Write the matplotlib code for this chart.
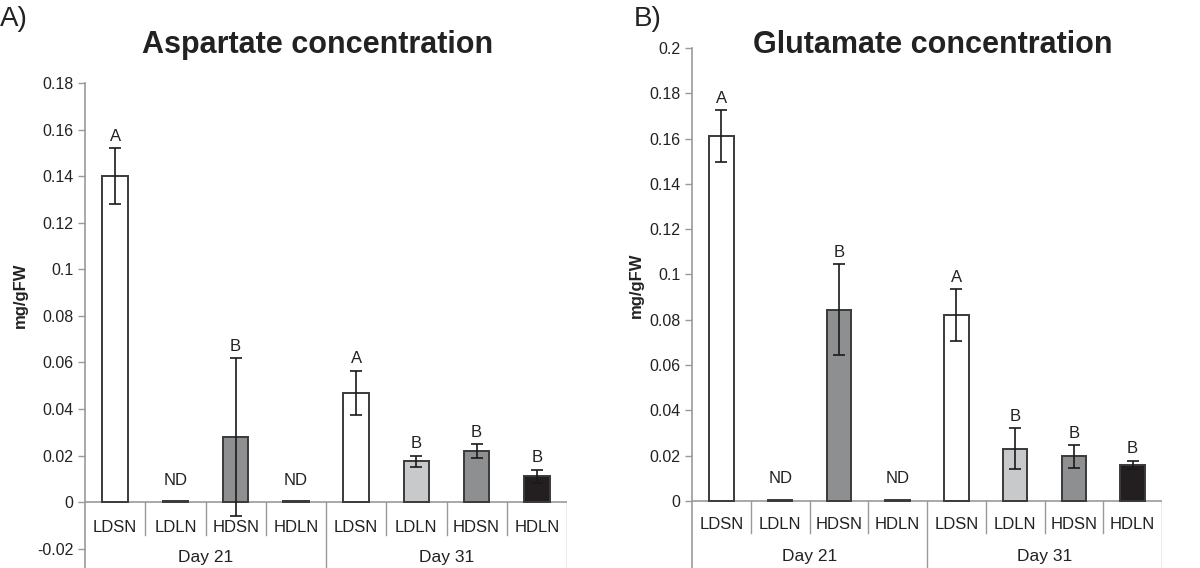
import matplotlib.pyplot as plt
import numpy as np

plt.rcParams['font.family'] = ['Liberation Sans', 'DejaVu Sans']

categorias = ['LDSN', 'LDLN', 'HDSN', 'HDLN', 'LDSN', 'LDLN', 'HDSN', 'HDLN']
dias = ['Day 21', 'Day 31']
cores = ['#ffffff', '#ffffff', '#8e8f91', '#ffffff', '#ffffff', '#c8c9cb', '#8e8f91', '#231f20']

# aspartato
asp = [0.140, 0.0003, 0.028, 0.0003, 0.047, 0.0175, 0.022, 0.011]
asp_err = [0.012, 0, 0.034, 0, 0.0095, 0.0025, 0.003, 0.003]
asp_letras = ['A', 'ND', 'B', 'ND', 'A', 'B', 'B', 'B']

# glutamato
glu = [0.161, 0.0003, 0.0845, 0.0003, 0.082, 0.023, 0.0197, 0.016]
glu_err = [0.0115, 0, 0.020, 0, 0.0115, 0.009, 0.005, 0.0018]
glu_letras = ['A', 'ND', 'B', 'ND', 'A', 'B', 'B', 'B']

fig = plt.figure(figsize=(12, 5.68), dpi=100)


def painel(ax, vals, errs, letras, ymin, ymax, ticks, ysep, ylab, yday):
    x = np.arange(len(vals))
    ax.bar(x, vals, width=0.42, color=cores, edgecolor='#3a3a3a', linewidth=1.4, zorder=3)
    for i in range(len(vals)):
        if errs[i] > 0:
            ax.errorbar(x[i], vals[i], yerr=errs[i], color='#1a1a1a', capsize=4,
                        elinewidth=1.2, capthick=1.2, zorder=4)
        topo = vals[i] + errs[i]
        off = 10 if letras[i] == 'ND' else 3
        ax.annotate(letras[i], (x[i], topo), xytext=(0, off), textcoords='offset points',
                    ha='center', va='bottom', fontsize=12, color='#222222')
    ax.set_xlim(-0.5, len(vals) - 0.5)
    ax.set_ylim(ymin, ymax)
    ax.set_yticks(ticks)
    ax.set_yticklabels(['%g' % round(t, 2) for t in ticks])
    ax.tick_params(axis='y', direction='out', length=5, color='#999999', labelsize=11.5,
                   labelcolor='#222222', width=1)
    ax.set_xticks([])
    for s in ['top', 'right', 'bottom']:
        ax.spines[s].set_visible(False)
    ax.spines['left'].set_color('#999999')
    ax.spines['left'].set_linewidth(1.2)
    ax.axhline(0, color='#999999', linewidth=1.2, zorder=2)
    for k in range(1, len(vals)):
        if k == 4:
            ax.plot([k - 0.5, k - 0.5], [0, ymin], color='#999999', linewidth=1, clip_on=False)
        else:
            ax.plot([k - 0.5, k - 0.5], [0, ysep], color='#999999', linewidth=1)
    ax.plot([len(vals) - 0.5, len(vals) - 0.5], [0, ymin], color='#999999', linewidth=1)
    for i, c in enumerate(categorias):
        ax.text(x[i], ylab, c, ha='center', va='center', fontsize=12, color='#222222')
    ax.text(1.5, yday, dias[0], ha='center', va='center', fontsize=12.5, color='#222222')
    ax.text(5.5, yday, dias[1], ha='center', va='center', fontsize=12.5, color='#222222')


ax1 = fig.add_axes([85 / 1200, 0, (567 - 85) / 1200, (568 - 83) / 568])
painel(ax1, asp, asp_err, asp_letras, -0.0283, 0.18,
       np.arange(-0.02, 0.181, 0.02), -0.0142, -0.0107, -0.0236)

ax2 = fig.add_axes([692 / 1200, 0, (1162 - 692) / 1200, (568 - 48) / 568])
painel(ax2, glu, glu_err, glu_letras, -0.0296, 0.2,
       np.arange(0, 0.201, 0.02), -0.0141, -0.0106, -0.0247)

fig.text(318 / 1200, 1 - 45 / 568, 'Aspartate concentration', ha='center', va='center',
         fontsize=22, fontweight='bold', color='#222222')
fig.text(933 / 1200, 1 - 45 / 568, 'Glutamate concentration', ha='center', va='center',
         fontsize=22, fontweight='bold', color='#222222')
fig.text(0, 1 - 19 / 568, 'A)', ha='left', va='center', fontsize=20, color='#222222')
fig.text(634 / 1200, 1 - 19 / 568, 'B)', ha='left', va='center', fontsize=20, color='#222222')
fig.text(20 / 1200, 1 - 295 / 568, 'mg/gFW', rotation=90, ha='center', va='center',
         fontsize=12, fontweight='bold', color='#222222')
fig.text(636 / 1200, 1 - 285 / 568, 'mg/gFW', rotation=90, ha='center', va='center',
         fontsize=12, fontweight='bold', color='#222222')

plt.savefig('out.png', dpi=100)
